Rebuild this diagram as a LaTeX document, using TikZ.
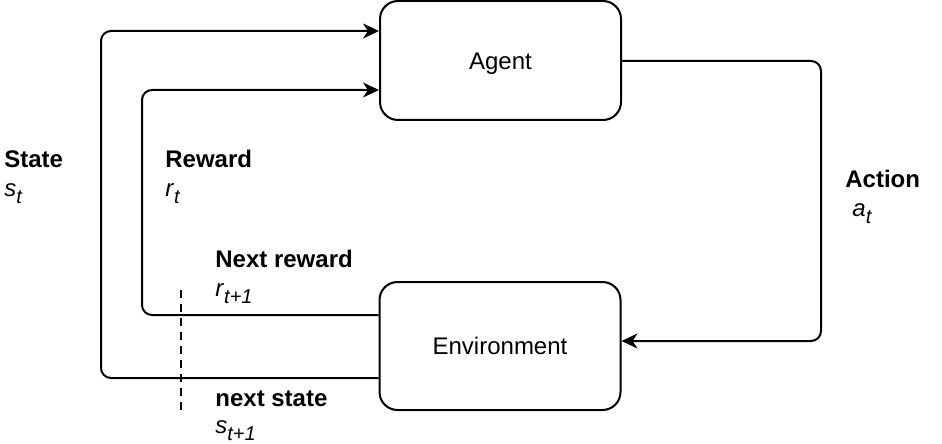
\documentclass[tikz,border=0pt]{standalone}
\usepackage{fontspec}
\setmainfont{Liberation Sans}
\usetikzlibrary{arrows.meta}
\newcommand{\sbs}[1]{\raisebox{-3.5pt}{\fontsize{10pt}{12pt}\selectfont\itshape #1}}
\begin{document}
\begin{tikzpicture}[x=0.5pt,y=-0.5pt,
  box/.style={draw,line width=1pt,rounded corners=9pt,minimum width=120.5pt,inner sep=0pt,text height=8.6pt,text depth=0pt,font=\fontsize{12pt}{14pt}\selectfont},
  conn/.style={line width=1pt,rounded corners=5pt,-{Stealth[length=8pt,width=7.5pt,inset=2.5pt]}},
  lab/.style={anchor=base west,inner sep=0pt,font=\fontsize{12pt}{14pt}\selectfont}]
\useasboundingbox (0,0) rectangle (942,444);
\node[box,minimum height=59.5pt] (agent) at (500.5,60.5) {Agent};
\node[box,minimum height=64pt] (env) at (500,346) {Environment};
% helper coordinates
\coordinate (sy) at (0,378);
\coordinate (st) at (0,31);
\coordinate (sx) at (101,0);
\coordinate (ry) at (0,315);
\coordinate (rt) at (0,90);
\coordinate (rx) at (142,0);
\coordinate (ay) at (0,61);
\coordinate (ax) at (821,0);
\coordinate (ab) at (0,341);
\coordinate (d1) at (181,290);
\coordinate (d2) at (181,411);
% connectors
\draw[conn] (env.west |- sy) -| (sx |- st) -- (agent.west |- st);
\draw[conn] (env.west |- ry) -| (rx |- rt) -- (agent.west |- rt);
\draw[conn] (agent.east |- ay) -| (ax |- ab) -- (env.east |- ab);
\draw[line width=1pt,dash pattern=on 4pt off 3pt] (d1) -- (d2);
% labels
\node[lab] (l1) at (4,167) {\textbf{State}};
\node[lab] (l1s) at (4,196) {\textit{s}\sbs{t}};
\node[lab] (l2) at (165,167) {\textbf{Reward}};
\node[lab] (l2s) at (165,196) {\textit{r}\sbs{t}};
\node[lab] (l3) at (215,267) {\textbf{Next reward}};
\node[lab] (l3s) at (215,296) {\textit{r}\sbs{t+1}};
\node[lab] (l4) at (215,406) {\textbf{next state}};
\node[lab] (l4s) at (215,433) {\textit{s}\sbs{t+1}};
\node[lab] (l5) at (845,187) {\textbf{Action}};
\node[lab] (l5s) at (852,216) {\textit{a}\sbs{t}};
\end{tikzpicture}
\end{document}
